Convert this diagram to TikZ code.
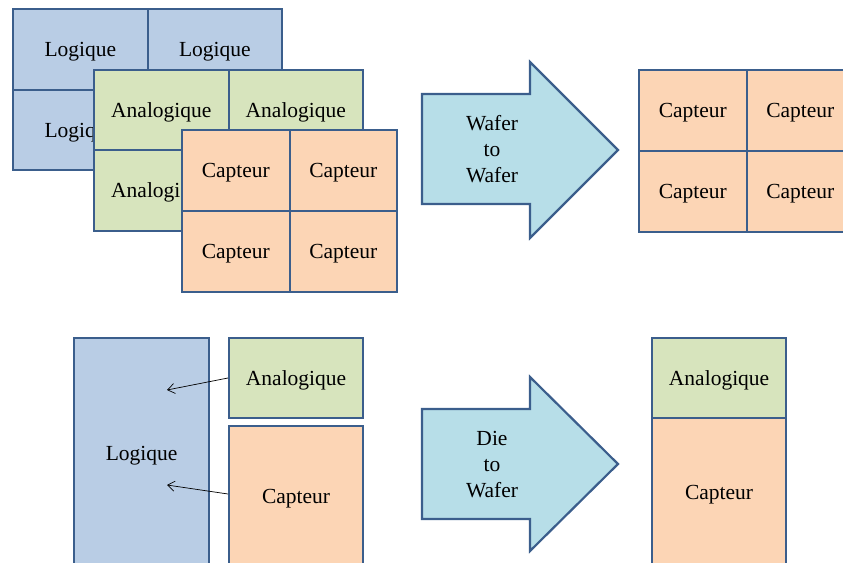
\documentclass[tikz,border=0pt]{standalone}
\usepackage{fontspec}
\setmainfont{Liberation Serif}
\usetikzlibrary{arrows.meta}
\definecolor{bord}{HTML}{3B5E8C}
\definecolor{logi}{HTML}{B9CDE5}
\definecolor{anal}{HTML}{D7E4BD}
\definecolor{capt}{HTML}{FCD5B5}
\definecolor{arr}{HTML}{B7DEE8}
\tikzset{
  cell/.style={draw=bord, line width=2.2pt, anchor=north west, inner sep=0pt,
    font=\fontsize{21.5}{25}\selectfont, text=black, text height=20pt, text depth=5pt},
  lcell/.style={cell, fill=logi, minimum width=134.5pt, minimum height=80.5pt},
  acell/.style={cell, fill=anal, minimum width=134.5pt, minimum height=80.5pt},
  ccell/.style={cell, fill=capt, minimum width=107.5pt, minimum height=81pt},
  bigarrow/.style={draw=bord, line width=2.2pt, fill=arr, line join=miter},
  arrtext/.style={align=center, font=\fontsize{21.5}{26}\selectfont},
  thin/.style={draw=black, line width=0.7pt, -{Straight Barb[length=7pt,width=10pt,line width=0.7pt]}}
}
\begin{document}
\begin{tikzpicture}[x=1pt,y=-1pt]
\useasboundingbox (0,0) rectangle (843,562);
\clip (0,0) rectangle (843,562);
% top-left stack: Logique
\node[lcell] (l1) at (12,8) {Logique};
\node[lcell] (l2) at (146.5,8) {Logique};
\node[lcell] (l3) at (12,88.5) {Logique};
\node[lcell] (l4) at (146.5,88.5) {Logique};
% Analogique
\node[acell] (a1) at (93,68.5) {Analogique};
\node[acell] (a2) at (227.5,68.5) {Analogique};
\node[acell] (a3) at (93,149) {Analogique};
\node[acell] (a4) at (227.5,149) {Analogique};
% Capteur
\node[ccell] (c1) at (181,128.5) {Capteur};
\node[ccell] (c2) at (288.5,128.5) {Capteur};
\node[ccell] (c3) at (181,209.5) {Capteur};
\node[ccell] (c4) at (288.5,209.5) {Capteur};
% top arrow
\draw[bigarrow] (422,94) -- (530,94) -- (530,62) -- (618,150) -- (530,238) -- (530,204) -- (422,204) -- cycle;
\node[arrtext] (w2w) at (492,149.5) {Wafer\\to\\Wafer};
% top-right grid
\node[ccell] (r1) at (638,68.5) {Capteur};
\node[ccell] (r2) at (745.5,68.5) {Capteur};
\node[ccell] (r3) at (638,149.5) {Capteur};
\node[ccell] (r4) at (745.5,149.5) {Capteur};
% bottom-left
\node[lcell, minimum width=135pt, minimum height=229pt] (bl) at (73,337) {Logique};
\node[acell, minimum width=134pt, minimum height=80pt] (ba) at (228,337) {Analogique};
\node[ccell, minimum width=134pt, minimum height=140pt] (bc) at (228,425) {Capteur};
\coordinate (t1) at (167,390);
\coordinate (t2) at (167,485);
\draw[thin] (ba.west |- 0,378) -- (t1);
\draw[thin] (bc.west |- 0,494) -- (t2);
% bottom arrow
\draw[bigarrow] (422,409) -- (530,409) -- (530,377) -- (618,464) -- (530,551) -- (530,519) -- (422,519) -- cycle;
\node[arrtext] (d2w) at (492,464.5) {Die\\to\\Wafer};
% bottom-right
\node[acell, minimum width=134pt, minimum height=80pt] (ra) at (651,337) {Analogique};
\node[ccell, minimum width=134pt, minimum height=148pt] (rc) at (651,417) {Capteur};
\end{tikzpicture}
\end{document}
